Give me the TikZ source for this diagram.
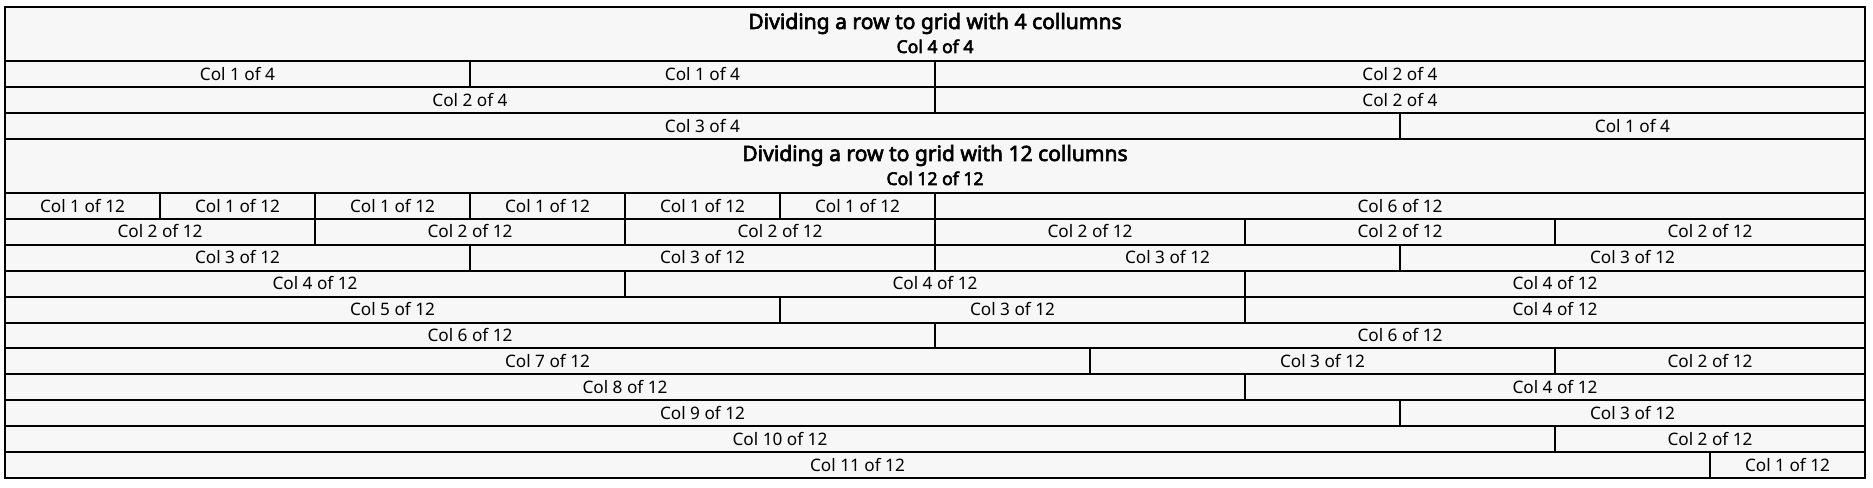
\documentclass[tikz,border=0pt]{standalone}
\usepackage{fontspec}
\setmainfont{Noto Sans}[AutoFakeBold=3]
\definecolor{cellbg}{HTML}{F7F7F7}
\tikzset{
  cellbox/.style={draw=black, fill=cellbg, line width=1.5pt, inner sep=0pt, outer sep=0pt,
    font=\fontsize{12.9pt}{14pt}\selectfont, text height=9.2pt, text depth=0pt},
  headbox/.style={draw=black, fill=cellbg, line width=1.5pt, inner sep=0pt, outer sep=0pt},
  titletext/.style={font=\bfseries\fontsize{15.8pt}{18pt}\selectfont, anchor=base, inner sep=0pt},
  subtext/.style={font=\bfseries\fontsize{13.2pt}{14pt}\selectfont, anchor=base, inner sep=0pt},
}
% name, start column, span, top, height, label
\newcommand\gcell[6]{%
  \pgfmathsetmacro\gcx{5+155*#2+77.5*#3}%
  \pgfmathsetmacro\gcw{155*#3}%
  \pgfmathsetmacro\gcy{#4+#5/2}%
  \node[cellbox, minimum width=\gcw*0.75pt, minimum height=#5*0.75pt] (#1) at (\gcx,\gcy) {#6};%
}
\begin{document}
\begin{tikzpicture}[x=0.75pt, y=-0.75pt]
\useasboundingbox[fill=white] (0,0) rectangle (1873,488);
% ---------- section 1: 4 columns ----------
\node[headbox, minimum width=1860*0.75pt, minimum height=54*0.75pt] (head1) at (935,34) {};
\node[titletext] (title1) at (935,29) {Dividing a row to grid with 4 collumns};
\node[subtext] (sub1) at (935,53) {Col 4 of 4};
\gcell{a1}{0}{3}{61}{26}{Col 1 of 4}
\gcell{a2}{3}{3}{61}{26}{Col 1 of 4}
\gcell{a3}{6}{6}{61}{26}{Col 2 of 4}
\gcell{b1}{0}{6}{87}{26}{Col 2 of 4}
\gcell{b2}{6}{6}{87}{26}{Col 2 of 4}
\gcell{c1}{0}{9}{113}{26}{Col 3 of 4}
\gcell{c2}{9}{3}{113}{26}{Col 1 of 4}
% ---------- section 2: 12 columns ----------
\node[headbox, minimum width=1860*0.75pt, minimum height=54*0.75pt] (head2) at (935,166) {};
\node[titletext] (title2) at (935,161) {Dividing a row to grid with 12 collumns};
\node[subtext] (sub2) at (935,185) {Col 12 of 12};
\def\rh{25.909}
\foreach \i in {0,...,5} {\gcell{r1c\i}{\i}{1}{193}{\rh}{Col 1 of 12}}
\gcell{r1c6}{6}{6}{193}{\rh}{Col 6 of 12}
\pgfmathsetmacro\tb{193+\rh}
\foreach \i in {0,...,5} {\gcell{r2c\i}{2*\i}{2}{\tb}{\rh}{Col 2 of 12}}
\pgfmathsetmacro\tc{193+2*\rh}
\foreach \i in {0,...,3} {\gcell{r3c\i}{3*\i}{3}{\tc}{\rh}{Col 3 of 12}}
\pgfmathsetmacro\td{193+3*\rh}
\foreach \i in {0,...,2} {\gcell{r4c\i}{4*\i}{4}{\td}{\rh}{Col 4 of 12}}
\pgfmathsetmacro\te{193+4*\rh}
\gcell{r5c0}{0}{5}{\te}{\rh}{Col 5 of 12}
\gcell{r5c1}{5}{3}{\te}{\rh}{Col 3 of 12}
\gcell{r5c2}{8}{4}{\te}{\rh}{Col 4 of 12}
\pgfmathsetmacro\tf{193+5*\rh}
\gcell{r6c0}{0}{6}{\tf}{\rh}{Col 6 of 12}
\gcell{r6c1}{6}{6}{\tf}{\rh}{Col 6 of 12}
\pgfmathsetmacro\tg{193+6*\rh}
\gcell{r7c0}{0}{7}{\tg}{\rh}{Col 7 of 12}
\gcell{r7c1}{7}{3}{\tg}{\rh}{Col 3 of 12}
\gcell{r7c2}{10}{2}{\tg}{\rh}{Col 2 of 12}
\pgfmathsetmacro\th{193+7*\rh}
\gcell{r8c0}{0}{8}{\th}{\rh}{Col 8 of 12}
\gcell{r8c1}{8}{4}{\th}{\rh}{Col 4 of 12}
\pgfmathsetmacro\tj{193+8*\rh}
\gcell{r9c0}{0}{9}{\tj}{\rh}{Col 9 of 12}
\gcell{r9c1}{9}{3}{\tj}{\rh}{Col 3 of 12}
\pgfmathsetmacro\tk{193+9*\rh}
\gcell{r10c0}{0}{10}{\tk}{\rh}{Col 10 of 12}
\gcell{r10c1}{10}{2}{\tk}{\rh}{Col 2 of 12}
\pgfmathsetmacro\tl{193+10*\rh}
\gcell{r11c0}{0}{11}{\tl}{\rh}{Col 11 of 12}
\gcell{r11c1}{11}{1}{\tl}{\rh}{Col 1 of 12}
% thin outer frame
\draw[white, line width=1.5pt] (2.5,4.5) rectangle (1867.5,480.5);
\draw[black, line width=0.75pt] (4.5,6.5) rectangle (1865.5,478.5);
\end{tikzpicture}
\end{document}
